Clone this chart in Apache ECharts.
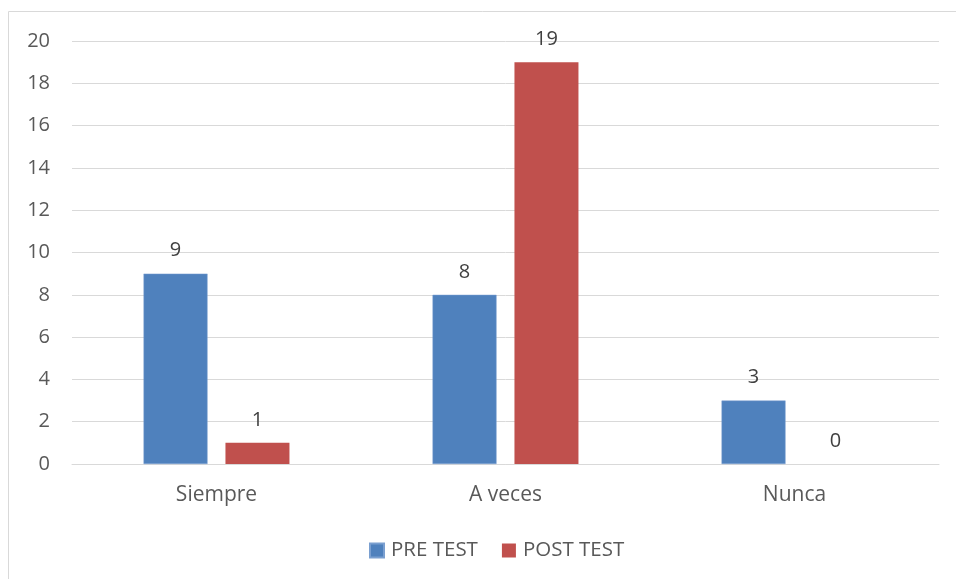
<!DOCTYPE html>
<html><head><meta charset="utf-8">
<script src="https://cdn.jsdelivr.net/npm/echarts@6/dist/echarts.min.js"></script>
<style>html,body{margin:0;padding:0;background:#fff}#c{width:956px;height:579px}</style>
</head><body><div id="c"></div>
<script>
const categories = ['Siempre', 'A veces', 'Nunca'];
const preTest = [9, 8, 3];
const postTest = [1, 19, 0];
const seriesNames = ['PRE TEST', 'POST TEST'];
const FONT = '"Open Sans", sans-serif';
const chart = echarts.init(document.getElementById('c'));
chart.setOption({
  animation: false,
  textStyle: { fontFamily: FONT },
  graphic: [{ type: 'rect', shape: { x: 8.5, y: 11.5, width: 1000, height: 1000 }, style: { fill: 'none', stroke: '#d9d9d9', lineWidth: 1 }, silent: true }],
  grid: { left: 72, right: 17, top: 41, bottom: 115 },
  legend: {
    bottom: 13, left: 364, itemWidth: 14, itemHeight: 14, itemGap: 24,
    icon: 'rect',
    textStyle: { color: '#595959', fontSize: 20.5, fontFamily: FONT, padding: [0, 0, 0, 2] },
    data: seriesNames
  },
  xAxis: {
    type: 'category', data: categories,
    axisLine: { lineStyle: { color: '#d9d9d9', width: 1 } },
    axisTick: { show: false },
    axisLabel: { color: '#595959', fontSize: 21, margin: 21, fontFamily: FONT }
  },
  yAxis: {
    type: 'value', min: 0, max: 20, interval: 2,
    axisLine: { show: false }, axisTick: { show: false },
    splitLine: { lineStyle: { color: '#d9d9d9', width: 1 } },
    axisLabel: { color: '#595959', fontSize: 20, margin: 22, fontFamily: FONT }
  },
  series: [
    { name: seriesNames[0], type: 'bar', data: preTest, barWidth: 64, barGap: '28%',
      itemStyle: { color: '#4F81BD', borderColor: '#7a9fd0', borderWidth: 0.5 },
      label: { show: true, position: 'top', distance: 13, color: '#404040', fontSize: 20, fontFamily: FONT } },
    { name: seriesNames[1], type: 'bar', data: postTest, barWidth: 64,
      itemStyle: { color: '#C0504D' },
      label: { show: true, position: 'top', distance: 13, color: '#404040', fontSize: 20, fontFamily: FONT } }
  ]
});
</script></body></html>
